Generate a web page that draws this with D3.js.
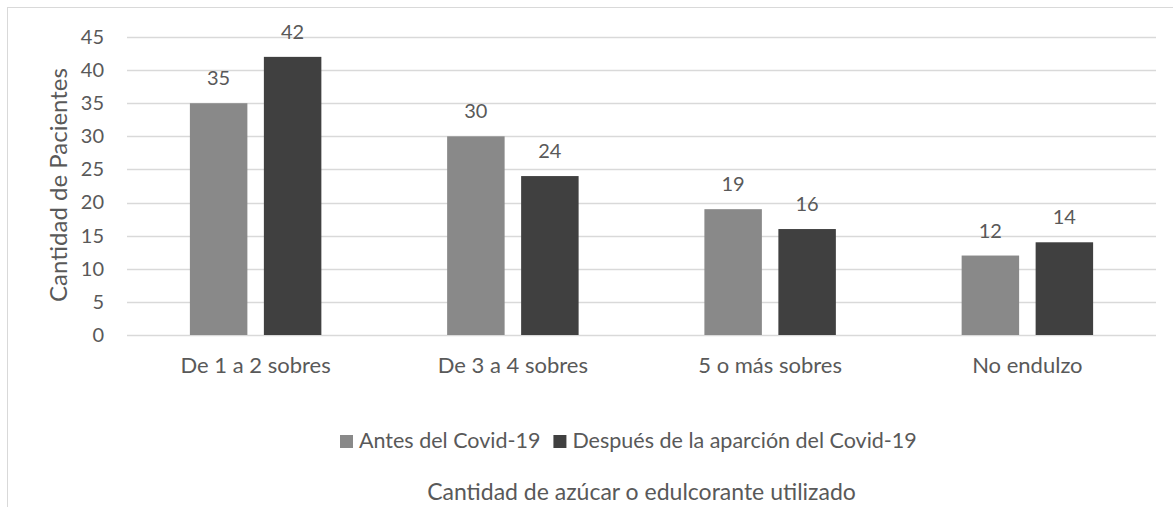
<!DOCTYPE html>
<html>
<head>
<meta charset="utf-8">
<script src="https://cdn.jsdelivr.net/npm/d3@7"></script>
<style>
  body { margin: 0; background: #fff; }
  svg { display: block; font-family: Lato, "Open Sans", sans-serif; }
</style>
</head>
<body>
<svg id="chart" width="1173" height="507"></svg>
<script>
const categories = ["De 1 a 2 sobres", "De 3 a 4 sobres", "5 o más sobres", "No endulzo"];
const seriesNames = ["Antes del Covid-19", "Después de la aparción del Covid-19"];
const antes = [35, 30, 19, 12];
const despues = [42, 24, 16, 14];
const yTicks = [0, 5, 10, 15, 20, 25, 30, 35, 40, 45];
const colors = ["#898989", "#404040"];

const svg = d3.select("#chart");
const textColor = "#595959";
const font = "Lato, 'Open Sans', sans-serif";

// chart frame
svg.append("rect")
  .attr("x", 7.5).attr("y", 7.5)
  .attr("width", 1200).attr("height", 600)
  .attr("fill", "none").attr("stroke", "#d9d9d9").attr("stroke-width", 1);

const plot = { left: 127, right: 1156, top: 37, bottom: 335 };

const x0 = d3.scaleBand().domain(categories).range([plot.left, plot.right]);
const x1 = d3.scaleBand().domain([0, 1]).range([0, x0.bandwidth()])
  .paddingInner(0.223).paddingOuter(0.85);
const y = d3.scaleLinear().domain([0, 45]).range([plot.bottom, plot.top]);

// gridlines
svg.append("g").selectAll("line").data(yTicks).join("line")
  .attr("x1", plot.left).attr("x2", plot.right)
  .attr("y1", d => Math.round(y(d)) + 0.5).attr("y2", d => Math.round(y(d)) + 0.5)
  .attr("stroke", "#d9d9d9").attr("stroke-width", 1.3);

// y axis labels
const yAxis = d3.axisLeft(y).tickValues(yTicks).tickSize(0).tickPadding(0);
const gy = svg.append("g").attr("transform", `translate(${plot.left - 23},0)`).call(yAxis);
gy.select(".domain").remove();
gy.selectAll("text").attr("fill", textColor).style("font-size", "20px")
  .style("font-family", font);

// bars
const series = [antes, despues];
const groups = svg.append("g").selectAll("g").data(categories).join("g")
  .attr("transform", d => `translate(${x0(d)},0)`);

groups.selectAll("rect").data((d, i) => series.map((s, k) => ({ k, v: s[i] }))).join("rect")
  .attr("x", d => x1(d.k))
  .attr("width", x1.bandwidth())
  .attr("y", d => y(d.v))
  .attr("height", d => y(0) - y(d.v))
  .attr("fill", d => colors[d.k]);

groups.selectAll("text").data((d, i) => series.map((s, k) => ({ k, v: s[i] }))).join("text")
  .attr("x", d => x1(d.k) + x1.bandwidth() / 2)
  .attr("y", d => y(d.v) - 18)
  .attr("text-anchor", "middle")
  .attr("fill", textColor)
  .style("font-size", "20px")
  .text(d => d.v);

// x axis category labels
const xAxis = d3.axisBottom(x0).tickSize(0).tickPadding(0);
const gx = svg.append("g").attr("transform", `translate(0,${plot.bottom + 22})`).call(xAxis);
gx.select(".domain").remove();
gx.selectAll("text").attr("fill", textColor).style("font-size", "22px")
  .style("font-family", font);

// y axis title
svg.append("text")
  .attr("transform", `translate(67,185) rotate(-90)`)
  .attr("text-anchor", "middle")
  .attr("fill", textColor)
  .style("font-size", "24px")
  .text("Cantidad de Pacientes");

// legend, laid out left to right from its first swatch
const legend = svg.append("g");
let lx = 340;
seriesNames.forEach((name, k) => {
  legend.append("rect").attr("x", lx).attr("y", 435).attr("width", 13).attr("height", 13)
    .attr("fill", colors[k]);
  const t = legend.append("text").attr("x", lx + 19).attr("y", 448).attr("fill", textColor)
    .style("font-size", "21.5px").text(name);
  lx += 19 + t.node().getComputedTextLength() + 13;
});

// x axis title
svg.append("text")
  .attr("x", (plot.left + plot.right) / 2).attr("y", 500)
  .attr("text-anchor", "middle")
  .attr("fill", textColor)
  .style("font-size", "23px")
  .text("Cantidad de azúcar o edulcorante utilizado");
</script>
</body>
</html>
